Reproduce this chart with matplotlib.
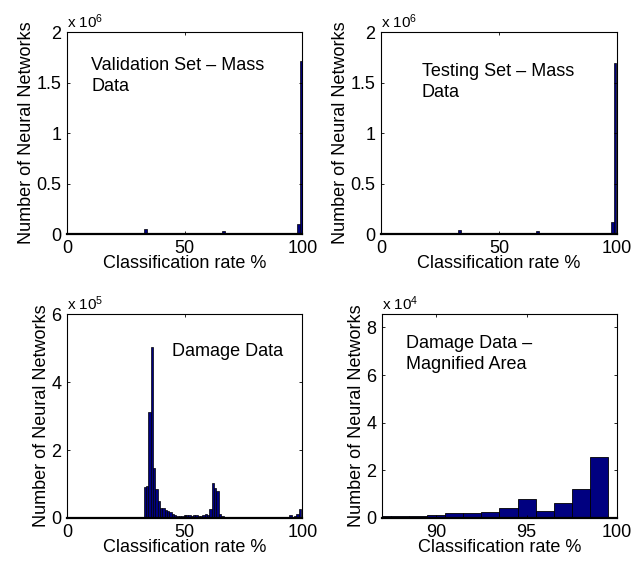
import numpy as np
import matplotlib
matplotlib.use('Agg')
import matplotlib.pyplot as plt

plt.rcParams['font.family'] = ['Liberation Sans', 'DejaVu Sans']
plt.rcParams['mathtext.fontset'] = 'custom'
plt.rcParams['mathtext.rm'] = 'Liberation Sans'
plt.rcParams['mathtext.default'] = 'regular'

# %% Data
# mass data - validation set
val_rate = [33.4, 66.4, 98.5, 99.6]
val_count = [0.045e6, 0.025e6, 0.095e6, 1.71e6]

# mass data - testing set
test_rate = [33.2, 66.2, 98.1, 99.2]
test_count = [0.043e6, 0.026e6, 0.115e6, 1.69e6]

# damage data, bin centres (classification rate %) and counts
damage_rate = [33, 34, 35, 36, 37, 38, 39, 40, 41, 42, 43, 44, 45, 46, 47, 48,
               49, 50, 51, 52, 53, 54, 55, 56, 57, 58, 59, 60, 61, 62, 63, 64,
               65, 66, 67, 68, 70, 72, 74, 76, 78, 80, 82, 84, 86,
               87, 88, 89, 90, 91, 92, 93, 94, 95, 96, 97, 98, 99]
damage_count = [0.91e5, 0.94e5, 3.12e5, 5.03e5, 1.46e5, 0.86e5, 0.50e5, 0.29e5,
                0.28e5, 0.24e5, 0.20e5, 0.17e5, 0.12e5, 0.08e5, 0.06e5, 0.07e5,
                0.06e5, 0.08e5, 0.10e5, 0.10e5, 0.07e5, 0.10e5, 0.08e5, 0.07e5,
                0.07e5, 0.09e5, 0.12e5, 0.10e5, 0.25e5, 1.02e5, 0.87e5, 0.80e5,
                0.12e5, 0.05e5, 0.03e5, 0.02e5, 0.01e5, 0.01e5, 0.01e5, 0.01e5,
                0.01e5, 0.01e5, 0.01e5, 0.01e5, 0.01e5,
                0.10e4, 0.10e4, 0.07e4, 0.14e4, 0.20e4, 0.20e4, 0.27e4, 0.41e4,
                0.79e4, 0.30e4, 0.62e4, 1.21e4, 2.57e4]

titles = ['Validation Set \u2013 Mass\nData', 'Testing Set \u2013 Mass\nData',
          'Damage Data', 'Damage Data \u2013\nMagnified Area']

# %% Plotting
bar_color = '#000080'
fs = 13

fig = plt.figure(figsize=(6.31, 5.65), dpi=100)
ax1 = fig.add_axes([0.1062, 0.5858, 0.3730, 0.3575])
ax2 = fig.add_axes([0.6038, 0.5858, 0.3740, 0.3575])
ax3 = fig.add_axes([0.1062, 0.0832, 0.3730, 0.3610])
ax4 = fig.add_axes([0.6054, 0.0832, 0.3724, 0.3610])

ax1.bar(val_rate, val_count, width=1.2, color=bar_color, edgecolor='black', linewidth=0.5)
ax2.bar(test_rate, test_count, width=1.1, color=bar_color, edgecolor='black', linewidth=0.5)
ax3.bar(damage_rate, damage_count, width=1.0, color=bar_color, edgecolor='black', linewidth=0.5)
ax4.bar(damage_rate, damage_count, width=1.0, color=bar_color, edgecolor='black', linewidth=0.6)

for ax in [ax1, ax2]:
    ax.set_xlim(0, 100)
    ax.set_ylim(0, 2e6)
    ax.set_xticks([0, 50, 100])
    ax.set_yticks([0, 0.5e6, 1e6, 1.5e6, 2e6])
    ax.set_yticklabels(['0', '0.5', '1', '1.5', '2'])

ax3.set_xlim(0, 100)
ax3.set_ylim(0, 6e5)
ax3.set_xticks([0, 50, 100])
ax3.set_yticks([0, 2e5, 4e5, 6e5])
ax3.set_yticklabels(['0', '2', '4', '6'])

ax4.set_xlim(87, 100)
ax4.set_ylim(0, 8.56e4)
ax4.set_xticks([90, 95, 100])
ax4.set_yticks([0, 2e4, 4e4, 6e4, 8e4])
ax4.set_yticklabels(['0', '2', '4', '6', '8'])

exps = ['6', '6', '5', '4']
text_pos = [(0.102, 0.878), (0.173, 0.848), (0.445, 0.856), (0.102, 0.898)]

for nn, ax in enumerate([ax1, ax2, ax3, ax4]):
    ax.tick_params(direction='in', length=2.5, width=0.6, top=True, right=True,
                   labelsize=fs, pad=4)
    for sp in ax.spines.values():
        sp.set_linewidth(0.8)
    ax.spines['bottom'].set_linewidth(1.6)
    ax.set_xlabel('Classification rate %', fontsize=fs, labelpad=-1)
    ax.set_ylabel('Number of Neural Networks', fontsize=fs, labelpad=1)
    ax.text(0.0, 1.005, 'x 10$^{' + exps[nn] + '}$', transform=ax.transAxes,
            ha='left', va='bottom', fontsize=11)
    ax.text(text_pos[nn][0], text_pos[nn][1], titles[nn], transform=ax.transAxes,
            ha='left', va='top', fontsize=fs, linespacing=1.3)

fig.savefig('out.png', dpi=100)
